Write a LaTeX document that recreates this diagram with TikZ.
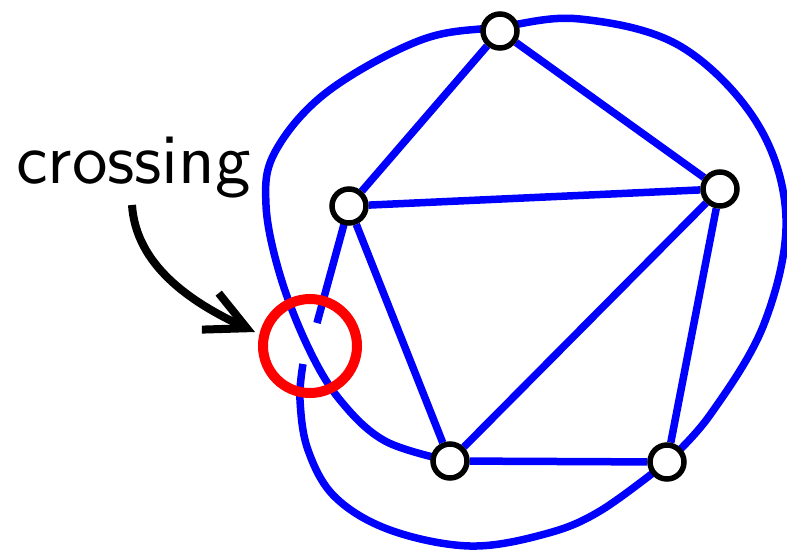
\documentclass[tikz,border=0pt]{standalone}
\usepackage{fontspec}
\newfontfamily\lmsx{lmsans10-regular}[Extension=.otf]
\usetikzlibrary{arrows.meta,backgrounds}
\begin{document}
\begin{tikzpicture}[x=1pt,y=-1pt,
  vert/.style={circle,draw=black,fill=white,line width=5.5pt,minimum size=34pt,inner sep=0pt},
  bline/.style={draw=blue,line width=7.5pt},
  ring/.style={circle,draw=red,line width=10pt,minimum size=94pt,inner sep=0pt},
  arr/.style={draw=black,line width=8pt,-{Straight Barb[angle=53:45pt,sharp]}}]
\useasboundingbox (0,0) rectangle (787,552);
\node[vert] (T) at (500,31) {};
\node[vert] (L) at (349,206) {};
\node[vert] (R) at (720,189) {};
\node[vert] (BL) at (450,461) {};
\node[vert] (BR) at (667,462) {};
\coordinate (g1) at (317,323);
\coordinate (g2) at (303,364);
\begin{scope}[on background layer]
\draw[bline] (T)--(L) (T)--(R) (L)--(R) (L)--(BL) (R)--(BL) (R)--(BR) (BL)--(BR);
\draw[bline] (L.center)--(g1);
\draw[bline] plot[smooth,tension=0.6] coordinates {(g2) (300,400) (308,450) (335,497) (390,530) (470,546) (545,534) (600,511) (BR.center)};
\draw[bline] plot[smooth,tension=0.6] coordinates {(BL.center) (385,441) (340,400) (308,347) (280,275) (266,205) (275,152) (327,92) (421,40) (500,27) (580,19) (680,46) (757,123) (786,218) (764,324) (710,415) (BR.center)};
\end{scope}
\node[ring] (X) at (310,346) {};
\node[anchor=base west,inner sep=0pt,font=\lmsx\fontsize{71}{80}\selectfont] (lbl) at (16,183) {crossing};
\coordinate (a0) at (132,205);
\coordinate (a1) at (255,332);
\draw[arr] (a0) .. controls (136,265) and (190,302) .. (a1);
\end{tikzpicture}
\end{document}
